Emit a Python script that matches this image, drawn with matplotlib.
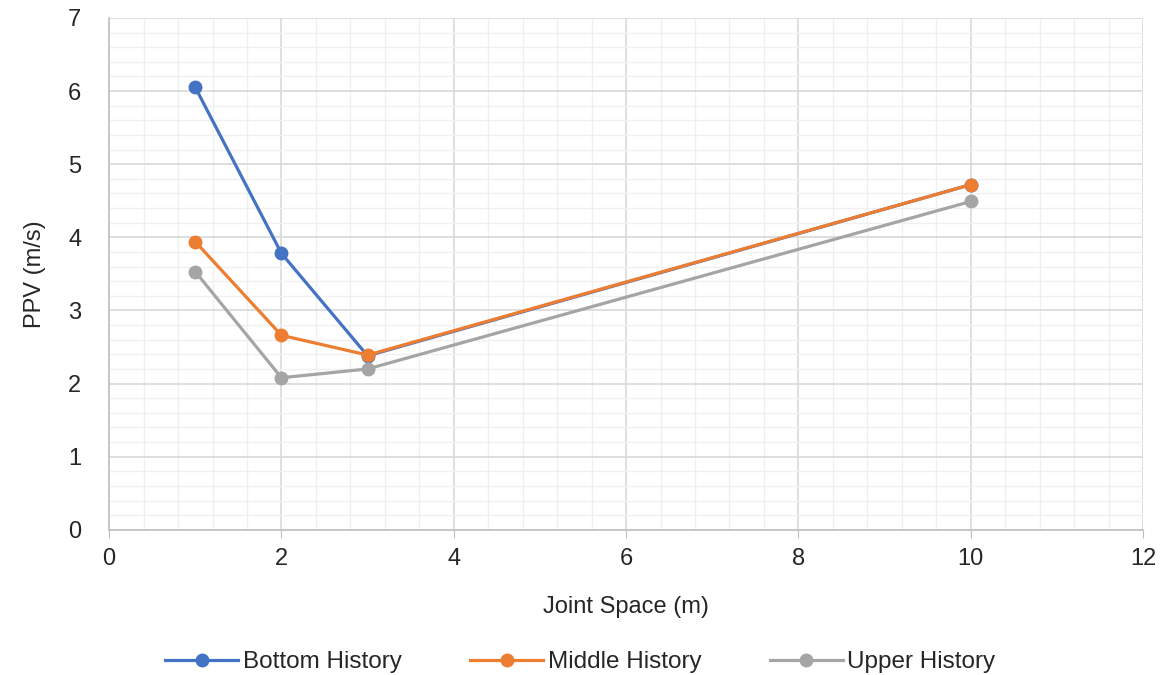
import numpy as np
import matplotlib
matplotlib.use('Agg')
import matplotlib.pyplot as plt
from matplotlib.ticker import MultipleLocator

plt.rcParams['font.family'] = ['Liberation Sans', 'DejaVu Sans']

joint_space = [1, 2, 3, 10]
bottom = [6.05, 3.78, 2.38, 4.72]
middle = [3.94, 2.66, 2.39, 4.72]
upper = [3.53, 2.08, 2.20, 4.49]

series_names = ['Bottom History', 'Middle History', 'Upper History']
colors = ['#4472C4', '#ED7D31', '#A5A5A5']

fig = plt.figure(figsize=(11.61, 6.75), dpi=100)
ax = fig.add_axes([0.094, 0.215, 0.8905, 0.7585])

for vals, name, c in zip([bottom, middle, upper], series_names, colors):
    ax.plot(joint_space, vals, color=c, lw=2.3, marker='o', ms=9, label=name, zorder=3)

ax.set_xlim(0, 12)
ax.set_ylim(0, 7)
ax.xaxis.set_major_locator(MultipleLocator(2))
ax.xaxis.set_minor_locator(MultipleLocator(0.4))
ax.yaxis.set_major_locator(MultipleLocator(1))
ax.yaxis.set_minor_locator(MultipleLocator(0.2))
ax.grid(which='major', color='#D9D9D9', lw=1.2)
ax.grid(which='minor', color='#F0F0F0', lw=1.0)
ax.set_axisbelow(True)

for s in ['top', 'right']:
    ax.spines[s].set_visible(False)
ax.spines['left'].set_color('#BFBFBF')
ax.spines['bottom'].set_color('#BFBFBF')
ax.spines['left'].set_linewidth(1.2)
ax.spines['bottom'].set_linewidth(1.2)

ax.tick_params(axis='x', which='major', length=6, color='#BFBFBF', labelsize=17, labelcolor='#262626', pad=7)
ax.tick_params(axis='y', which='major', length=0, labelsize=17, labelcolor='#262626', pad=20)
ax.tick_params(which='minor', length=0)

ax.set_xlabel('Joint Space (m)', fontsize=17, color='#262626', labelpad=19)
ax.set_ylabel('PPV (m/s)', fontsize=17, color='#262626', labelpad=16)

fig.legend(loc='lower center', bbox_to_anchor=(0.5, -0.03), ncol=3, frameon=False,
           fontsize=17.5, handlelength=3.0, columnspacing=2.8, handletextpad=0.2,
           labelcolor='#262626')

fig.savefig('out.png', dpi=100)
